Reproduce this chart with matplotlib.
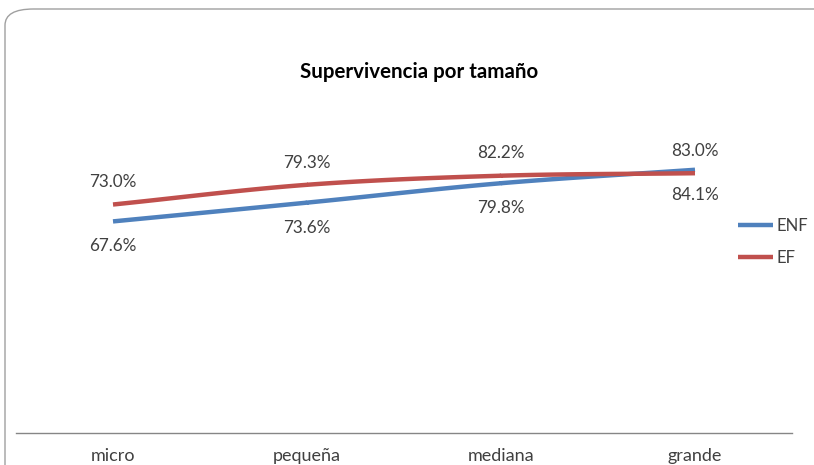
import numpy as np
import matplotlib
matplotlib.use("Agg")
import matplotlib.pyplot as plt
from matplotlib.patches import FancyBboxPatch

categories = ["micro", "pequeña", "mediana", "grande"]
enf = [67.6, 73.6, 79.8, 84.1]
ef = [73.0, 79.3, 82.2, 83.0]
enf_labels = ["67.6%", "73.6%", "79.8%", "84.1%"]
ef_labels = ["73.0%", "79.3%", "82.2%", "83.0%"]

plt.rcParams['font.family'] = ['Lato', 'DejaVu Sans']


def smooth(xs, ys, n=40):
    xs = np.asarray(xs, float)
    ys = np.asarray(ys, float)
    px = np.concatenate([[2 * xs[0] - xs[1]], xs, [2 * xs[-1] - xs[-2]]])
    py = np.concatenate([[2 * ys[0] - ys[1]], ys, [2 * ys[-1] - ys[-2]]])
    outx, outy = [], []
    for i in range(1, len(px) - 2):
        t = np.linspace(0, 1, n)
        p0, p1, p2, p3 = [np.array([px[j], py[j]]) for j in range(i - 1, i + 3)]
        t2, t3 = t * t, t * t * t
        pts = 0.5 * ((2 * p1)[:, None] + (-p0 + p2)[:, None] * t
                     + (2 * p0 - 5 * p1 + 4 * p2 - p3)[:, None] * t2
                     + (-p0 + 3 * p1 - 3 * p2 + p3)[:, None] * t3)
        outx.extend(pts[0])
        outy.extend(pts[1])
    return np.array(outx), np.array(outy)


fig = plt.figure(figsize=(8.14, 4.65), dpi=100)
fig.patch.set_facecolor("white")

# rounded chart border
border = FancyBboxPatch((5 / 814, -0.05), 1.2, 1.05 - 9 / 465,
                        boxstyle="round,pad=0,rounding_size=0.035",
                        transform=fig.transFigure, facecolor="none",
                        edgecolor="#a0a0a0", linewidth=1.0, zorder=-1)
fig.patches.append(border)

ax = fig.add_axes([16 / 814, 32 / 465, 776 / 814, 313 / 465])
ax.set_facecolor("none")
x = np.arange(len(categories))

blue = "#4F81BD"
red = "#C0504D"
sx, sy = smooth(x, enf)
ax.plot(sx, sy, color=blue, lw=3.2, solid_capstyle="butt", label="ENF", zorder=3)
sx, sy = smooth(x, ef)
ax.plot(sx, sy, color=red, lw=3.2, solid_capstyle="butt", label="EF", zorder=3)

for xi, v, lab in zip(x, enf, enf_labels):
    ax.annotate(lab, (xi, v), xytext=(0, -18), textcoords="offset points",
                ha="center", va="center", fontsize=12.3, color="#404040")
for xi, v, lab in zip(x, ef, ef_labels):
    ax.annotate(lab, (xi, v), xytext=(0, 16), textcoords="offset points",
                ha="center", va="center", fontsize=12.3, color="#404040")

ax.set_xlim(-0.5, 3.5)
ax.set_ylim(0, 100)
ax.set_xticks(x)
ax.set_xticklabels(categories, fontsize=13, color="#404040")
ax.tick_params(axis="x", length=0, pad=11)
ax.set_yticks([])
for s in ["top", "right", "left"]:
    ax.spines[s].set_visible(False)
ax.spines["bottom"].set_color("#868686")
ax.spines["bottom"].set_linewidth(1.0)

fig.text(419 / 814, 1 - 72 / 465, "Supervivencia por tamaño", ha="center", va="center",
         fontsize=14.8, fontweight="bold", color="black")

leg = ax.legend(loc="upper left", bbox_to_anchor=(738 / 814, 1 - 218 / 465),
                bbox_transform=fig.transFigure, frameon=False, fontsize=12,
                handlelength=2.1, handletextpad=0.2, labelspacing=0.95,
                borderpad=0, borderaxespad=0)
for t in leg.get_texts():
    t.set_color("#404040")

fig.savefig("out.png", dpi=100)
